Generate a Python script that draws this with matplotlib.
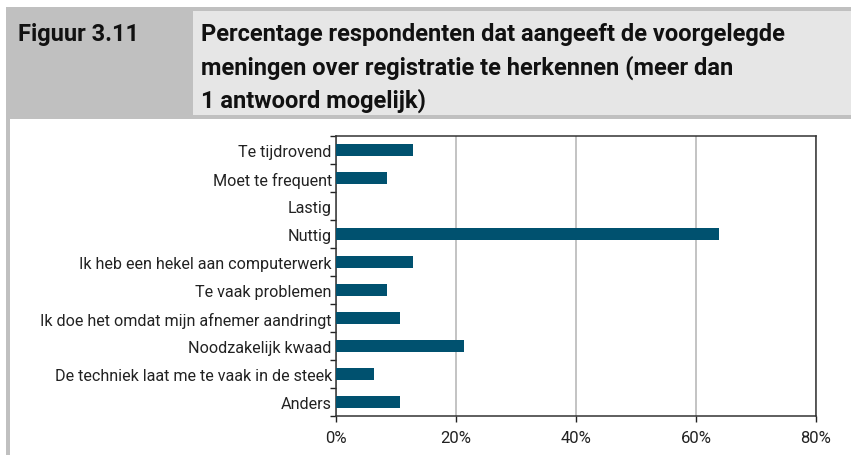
import matplotlib
matplotlib.use('Agg')
import matplotlib.pyplot as plt
from matplotlib.patches import Rectangle
from matplotlib.ticker import FixedLocator, PercentFormatter

# Figuur 3.11 - meningen over registratie (percentage respondenten)
categories = ['Te tijdrovend', 'Moet te frequent', 'Lastig', 'Nuttig',
              'Ik heb een hekel aan computerwerk', 'Te vaak problemen',
              'Ik doe het omdat mijn afnemer aandringt', 'Noodzakelijk kwaad',
              'De techniek laat me te vaak in de steek', 'Anders']
percentages = [12.8, 8.5, 0, 63.8, 12.8, 8.5, 10.6, 21.3, 6.4, 10.6]
x_ticks = [0, 20, 40, 60, 80]

fig_label = 'Figuur 3.11'
title_lines = ['Percentage respondenten dat aangeeft de voorgelegde',
               'meningen over registratie te herkennen (meer dan',
               '1 antwoord mogelijk)']

W, H = 851, 456
plt.rcParams['font.family'] = ['Roboto', 'DejaVu Sans']
fig = plt.figure(figsize=(W / 100, H / 100), dpi=100)


def box(x0, y0, x1, y1, color):
    # pixel coordinates, origin top left
    fig.patches.append(Rectangle((x0 / W, 1 - y1 / H), (x1 - x0) / W, (y1 - y0) / H,
                                 transform=fig.transFigure, facecolor=color,
                                 edgecolor='none', zorder=0))


# kop
box(6, 8, W, 120, '#c0c0c0')
box(193, 12, W, 116, '#e6e6e6')
box(6, 120, 10, H, '#c0c0c0')

fig.text(18 / W, 1 - 41 / H, fig_label, fontsize=17, fontweight='bold',
         va='baseline', color='#111111')
for i, line in enumerate(title_lines):
    fig.text(201 / W, 1 - (41 + 33.5 * i) / H, line, fontsize=17,
             fontweight='bold', va='baseline', color='#111111')

# grafiek
ax = fig.add_axes([336 / W, 1 - 417 / H, 480 / W, 280 / H])
y = list(range(len(categories)))
ax.barh(y, percentages, height=0.4, color='#00516f', linewidth=0, zorder=3)

ax.set_xlim(0, 80)
ax.set_ylim(len(categories) - 0.5, -0.5)
ax.xaxis.set_major_locator(FixedLocator(x_ticks))
ax.xaxis.set_major_formatter(PercentFormatter(decimals=0))
ax.set_yticks(y)
ax.set_yticklabels(categories)
ax.yaxis.set_minor_locator(FixedLocator([i - 0.5 for i in range(len(categories) + 1)]))

ax.tick_params(axis='y', which='major', length=0, pad=3, labelsize=11.6, labelcolor='#222222')
ax.tick_params(axis='y', which='minor', length=4, width=1, color='#222222', direction='out')
ax.tick_params(axis='x', length=4, width=1, color='#222222', pad=6, labelsize=12,
               labelcolor='#222222')

ax.grid(axis='x', color='#c3c3c3', linewidth=1.4, zorder=1)
ax.set_axisbelow(True)
for s in ax.spines.values():
    s.set_color('#333333')
    s.set_linewidth(1.1)

fig.savefig('out.png', dpi=100)
